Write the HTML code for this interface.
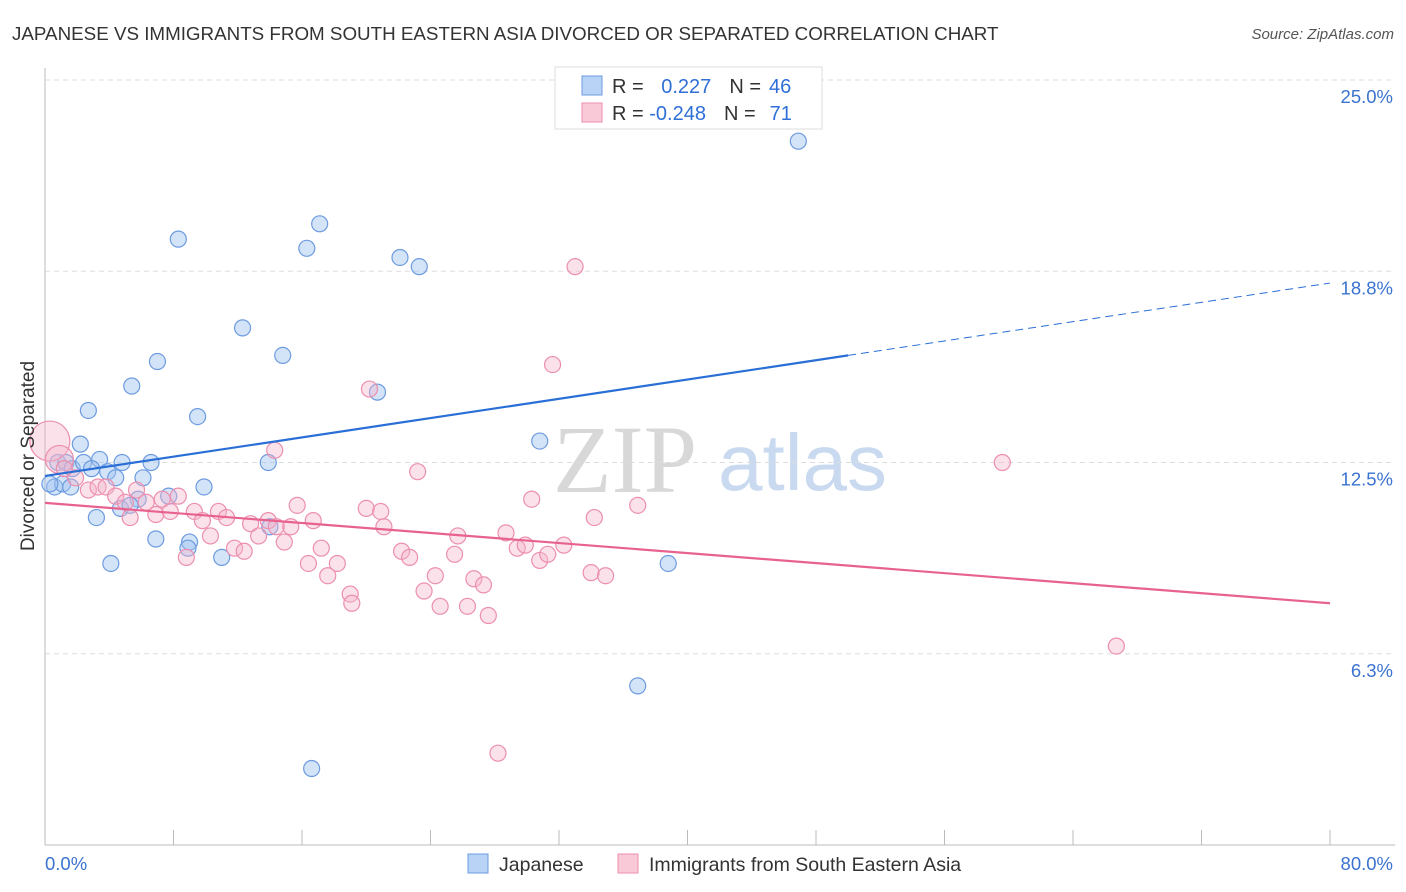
<!DOCTYPE html>
<html><head><meta charset="utf-8"><style>
body{margin:0;background:#fff;font-family:"Liberation Sans",sans-serif;}
svg{display:block}
</style></head><body>
<svg id="chart" width="1406" height="892" xmlns="http://www.w3.org/2000/svg">
<text x="12" y="40" font-size="18.8" fill="#333">JAPANESE VS IMMIGRANTS FROM SOUTH EASTERN ASIA DIVORCED OR SEPARATED CORRELATION CHART</text>
<text x="1394" y="39" font-size="15" fill="#555" font-style="italic" text-anchor="end">Source: ZipAtlas.com</text>
<g>
<text x="553" y="492" font-size="96" fill="#d8d8d8" font-family="Liberation Serif,serif">ZIP</text>
<text x="718" y="490" font-size="80" fill="#c9daf0">atlas</text>
</g>
<g id="grid"></g>
<g id="axes"></g>
<g id="marks"></g>
<text transform="translate(34,456) rotate(-90)" font-size="19" fill="#333" text-anchor="middle">Divorced or Separated</text>
<g>
<rect x="555" y="67" width="267" height="62" fill="#fff" stroke="#ddd"/>
<rect x="582" y="76" width="20" height="19" fill="#b8d3f5" stroke="#6d9be0"/>
<rect x="582" y="103" width="20" height="19" fill="#f9c9d8" stroke="#ec8fae"/>
<text x="612" y="93" font-size="20" fill="#333">R = <tspan fill="#2f6fd6" dx="12">0.227</tspan><tspan dx="18">N =</tspan><tspan fill="#2f6fd6" dx="8">46</tspan></text>
<text x="612" y="120" font-size="20" fill="#333">R = <tspan fill="#2f6fd6">-0.248</tspan><tspan dx="18">N =</tspan><tspan fill="#2f6fd6" dx="14">71</tspan></text>
</g>
<g>
<rect x="468" y="854" width="20" height="19" fill="#b8d3f5" stroke="#6d9be0"/>
<text x="499" y="871" font-size="19.5" fill="#333">Japanese</text>
<rect x="618" y="854" width="20" height="19" fill="#f9c9d8" stroke="#ec8fae"/>
<text x="649" y="871" font-size="19.5" fill="#333">Immigrants from South Eastern Asia</text>
</g>
</svg>
<script>
const yTicks=[25,18.75,12.5,6.25];
const yTickLabels=["25.0%","18.8%","12.5%","6.3%"];
const xTicks=[0,8,16,24,32,40,48,56,64,72,80];
const xTickLabels=["0.0%","80.0%"];
const japX=[46.9,8.3,16.3,17.1,22.1,23.3,12.3,14.8,7.0,5.4,20.7,2.7,9.5,30.8,2.2,0.8,1.3,1.7,2.4,3.4,2.9,3.9,4.8,6.6,13.9,4.4,6.1,0.6,1.1,1.6,0.3,7.7,9.9,5.8,4.7,5.3,3.2,6.9,9.0,8.9,4.1,11.0,14.0,38.8,36.9,16.6];
const japY=[23.0,19.8,19.5,20.3,19.2,18.9,16.9,16.0,15.8,15.0,14.8,14.2,14.0,13.2,13.1,12.5,12.5,12.3,12.5,12.6,12.3,12.2,12.5,12.5,12.5,12.0,12.0,11.7,11.8,11.7,11.8,11.4,11.7,11.3,11.0,11.1,10.7,10.0,9.9,9.7,9.2,9.4,10.4,9.2,5.2,2.5];
const immX=[0.3,0.9,33.0,31.6,20.2,14.3,23.2,59.6,1.9,2.7,3.3,3.8,4.4,5.0,5.7,6.3,6.9,5.3,7.3,7.8,8.3,9.3,9.8,10.3,10.8,11.3,11.8,12.4,12.8,13.3,13.9,14.4,14.9,15.3,15.7,16.4,16.7,17.2,17.6,18.2,19.0,19.1,20.0,20.9,21.1,22.2,22.7,23.6,24.3,24.6,25.5,25.7,26.3,26.7,27.3,27.6,28.7,29.4,29.9,30.3,30.8,31.3,32.3,34.0,34.2,34.9,36.9,28.2,66.7,8.8,1.2];
const immY=[13.2,12.6,18.9,15.7,14.9,12.9,12.2,12.5,12.0,11.6,11.7,11.7,11.4,11.2,11.6,11.2,10.8,10.7,11.3,10.9,11.4,10.9,10.6,10.1,10.9,10.7,9.7,9.6,10.5,10.1,10.6,10.4,9.9,10.4,11.1,9.2,10.6,9.7,8.8,9.2,8.2,7.9,11.0,10.9,10.4,9.6,9.4,8.3,8.8,7.8,9.5,10.1,7.8,8.7,8.5,7.5,10.2,9.7,9.8,11.3,9.3,9.5,9.8,8.9,10.7,8.8,11.1,3.0,6.5,9.4,12.3];
const immR=[20,14];
const japTrend=[12.06,0.0788];
const immTrend=[11.18,-0.041];
const NS="http://www.w3.org/2000/svg";
const X=v=>45+v*16.0625, Y=v=>845-v*30.6;
function mk(tag,attrs,parent){const e=document.createElementNS(NS,tag);for(const k in attrs)e.setAttribute(k,attrs[k]);document.getElementById(parent).appendChild(e);return e;}
yTicks.forEach((t,i)=>{
 const g=mk('line',{x1:45,x2:1395,y1:Y(t),y2:Y(t),stroke:'#ddd','stroke-dasharray':'5,4'},'grid');
 
 
 const l=mk('text',{x:1393,y:Y(t)+23,'font-size':18.5,fill:'#3a73d0','text-anchor':'end'},'grid');
 l.textContent=yTickLabels[i];
 
 
});
const ax=mk('line',{x1:45,x2:45,y1:68,y2:845,stroke:'#bbb'},'axes');


const bx=mk('line',{x1:45,x2:1395,y1:845,y2:845,stroke:'#bbb'},'axes');


xTicks.forEach(t=>{
 const tk=mk('line',{x1:X(t),x2:X(t),y1:830,y2:845,stroke:'#bbb'},'axes');
 
 
});
const xl0=mk('text',{x:45,y:870,'font-size':18.5,fill:'#3a73d0'},'axes');
xl0.textContent=xTickLabels[0];


const xl1=mk('text',{x:1393,y:870,'font-size':18.5,fill:'#3a73d0','text-anchor':'end'},'axes');
xl1.textContent=xTickLabels[1];


japX.forEach((x,i)=>{
 const c=mk('circle',{cx:X(x),cy:Y(japY[i]),r:8,fill:'rgba(160,195,240,0.45)',stroke:'#6d9be0','stroke-width':1.2},'marks');
 
 
});
immX.forEach((x,i)=>{
 const c=mk('circle',{cx:X(x),cy:Y(immY[i]),r:immR[i]||8,fill:'rgba(246,180,202,0.4)',stroke:'#ec8fae','stroke-width':1.2},'marks');
 
 
});
const jl=mk('line',{x1:X(0),y1:Y(japTrend[0]),x2:X(50),y2:Y(japTrend[0]+50*japTrend[1]),stroke:'#2a6fd6','stroke-width':2.2},'marks');


const jd=mk('line',{x1:X(50),y1:Y(japTrend[0]+50*japTrend[1]),x2:X(80),y2:Y(japTrend[0]+80*japTrend[1]),stroke:'#2a6fd6','stroke-width':1,'stroke-dasharray':'8,5'},'marks');


const il=mk('line',{x1:X(0),y1:Y(immTrend[0]),x2:X(80),y2:Y(immTrend[0]+80*immTrend[1]),stroke:'#e8628f','stroke-width':2.2},'marks');


</script>
</body></html>
